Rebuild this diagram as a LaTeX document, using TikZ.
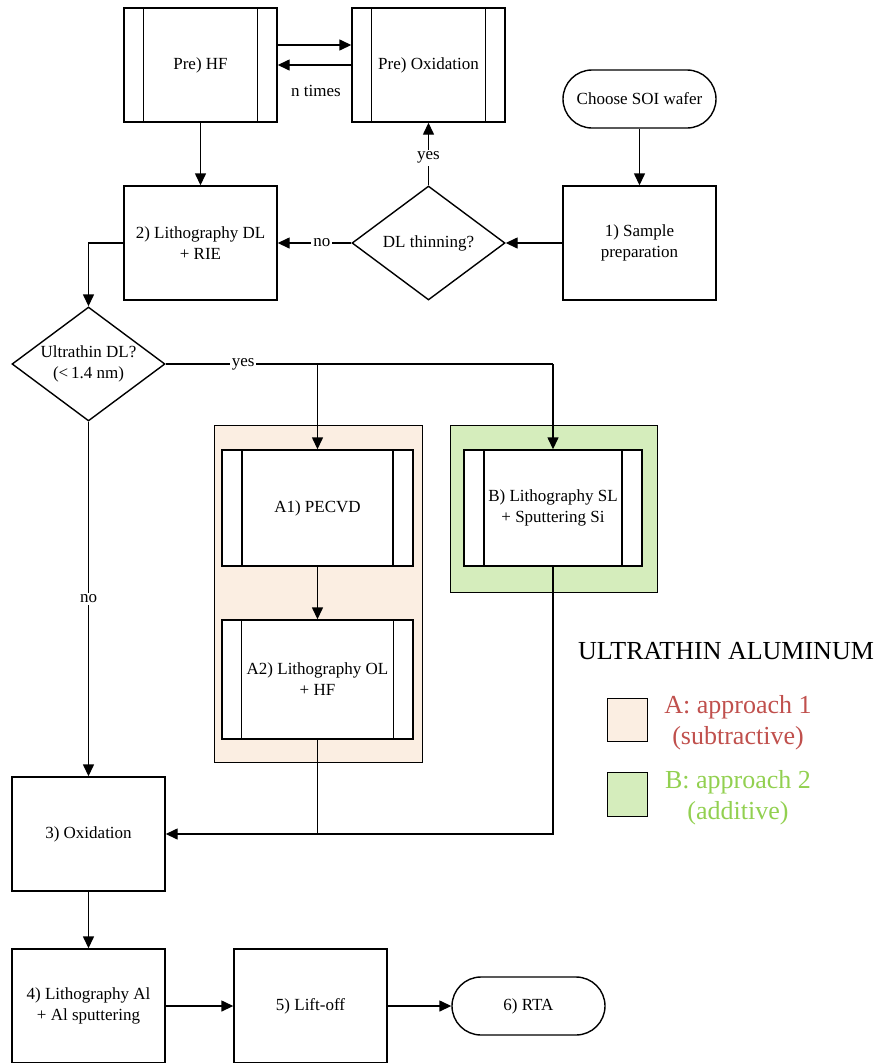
\documentclass[tikz,border=0pt]{standalone}
\usepackage{fontspec}
\setmainfont{Liberation Serif}
\usetikzlibrary{shapes.geometric,arrows.meta}
\definecolor{orfill}{HTML}{FBEEE2}
\definecolor{grfill}{HTML}{D5EDBC}
\definecolor{redtxt}{HTML}{C0504D}
\definecolor{grtxt}{HTML}{92D050}
\begin{document}
\begin{tikzpicture}[x=1pt,y=-1pt,line width=1.4pt,
  txt/.style={font=\fontsize{17}{21}\selectfont},
  box/.style={draw,fill=white,minimum width=153pt,minimum height=114pt,inner sep=2pt,align=center,txt},
  proc/.style={box,path picture={
     \draw[line width=1.4pt] ([xshift=#1]path picture bounding box.north west) -- ([xshift=#1]path picture bounding box.south west);
     \draw[line width=1.4pt] ([xshift=-#1]path picture bounding box.north east) -- ([xshift=-#1]path picture bounding box.south east);}},
  proc/.default=19.5pt,
  term/.style={draw,fill=white,rounded corners=29pt,minimum width=153pt,minimum height=58pt,inner sep=2pt,align=center,txt},
  dec/.style={draw,fill=white,diamond,aspect=1.342,minimum width=153pt,minimum height=114pt,inner sep=0pt,align=center,txt},
  lab/.style={fill=white,inner sep=2pt,txt},
  region/.style={draw,line width=1pt,inner sep=0pt},
  arr/.style={-{Triangle[length=12pt,width=11pt]}},
  legtxt/.style={font=\fontsize{26}{31}\selectfont,align=center}]
\useasboundingbox (0,0) rectangle (874,1063);

% regions
\node[region,fill=orfill,minimum width=208pt,minimum height=337pt] (regA) at (318,593.5) {};
\node[region,fill=grfill,minimum width=207pt,minimum height=167pt] (regB) at (553.5,508.5) {};

% nodes
\node[proc] (prehf) at (200.5,65) {Pre) HF};
\node[proc] (preox) at (428.5,65) {Pre) Oxidation};
\node[term] (soi) at (639.5,99) {Choose SOI wafer};
\node[box] (s1) at (639.5,243) {1) Sample\\preparation};
\node[dec] (thin) at (428.5,243) {DL thinning?};
\node[box] (s2) at (200.5,243) {2) Lithography DL\\+ RIE};
\node[dec] (ultra) at (88.5,364) {Ultrathin DL?\\(<\,1.4 nm)};
\node[proc=20pt,minimum width=191pt,minimum height=116pt] (a1) at (317.5,508) {A1) PECVD};
\node[proc=19.5pt,minimum width=191pt,minimum height=119pt] (a2) at (317.5,679.5) {A2) Lithography OL\\+ HF};
\node[proc=20pt,minimum width=178pt,minimum height=116pt] (bb) at (553,508) {B) Lithography SL\\+ Sputtering Si};
\node[box] (s3) at (88.5,834) {3) Oxidation};
\node[box] (s4) at (88.5,1006) {4) Lithography Al\\+ Al sputtering};
\node[box] (s5) at (310.5,1006) {5) Lift-off};
\node[term] (s6) at (528.5,1006) {6) RTA};

% legend
\node[legtxt] (legtitle) at (726,651) {ULTRATHIN ALUMINUM};
\node[region,fill=orfill,minimum width=40pt,minimum height=43pt] (sqA) at (627,719.5) {};
\node[region,fill=grfill,minimum width=40pt,minimum height=44pt] (sqB) at (627,794) {};
\node[legtxt,text=redtxt] (legA) at (738,723) {A: approach 1\\(subtractive)};
\node[legtxt,text=grtxt] (legB) at (738,797.5) {B: approach 2\\(additive)};

% connectors
\draw[arr] (prehf.east |- 0,45) -- (preox.west |- 0,45);
\draw[arr] (preox.west |- 0,65) -- (prehf.east |- 0,65);
\node[txt] (ntimes) at (316,91) {n times};
\draw[arr] (prehf) -- (s2);
\draw[arr] (soi) -- (s1);
\draw[arr] (s1) -- (thin);
\draw[arr] (thin) -- node[lab,pos=0.4]{no} (s2);
\draw[arr] (thin) -- node[lab,pos=0.44]{yes} (preox);
\draw[arr] (s2.west) -| (ultra.north);
\coordinate (ybr) at (553,364);
\coordinate (yA) at (317.5,364);
\draw (ultra.east) -- node[lab,pos=0.2]{yes} (ybr);
\draw[arr] (yA) -- (a1);
\draw[arr] (ybr) -- (bb);
\draw[arr] (a1) -- (a2);
\draw[arr] (ultra) -- node[lab]{no} (s3);
\coordinate (jn) at (317.5,834);
\draw (a2) -- (jn);
\draw[arr] (bb.south) |- (s3.east);
\draw[arr] (s3) -- (s4);
\draw[arr] (s4) -- (s5);
\draw[arr] (s5) -- (s6);
\end{tikzpicture}
\end{document}
